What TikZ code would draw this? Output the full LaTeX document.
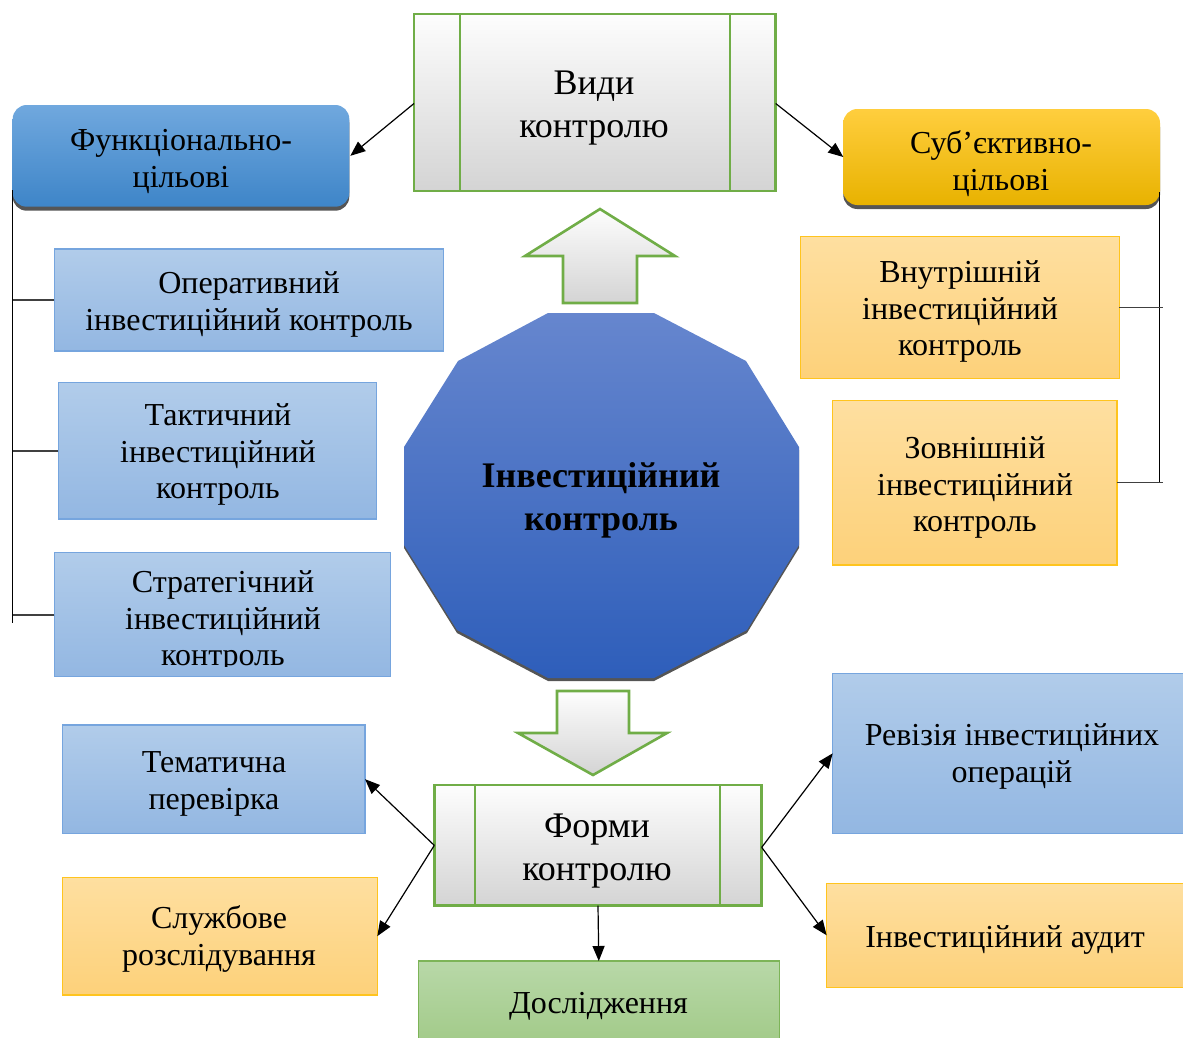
\documentclass[tikz,border=0pt]{standalone}
\usepackage{fontspec}
\setmainfont{Liberation Serif}
\usetikzlibrary{arrows.meta,shadows}
\definecolor{gbd}{RGB}{112,173,71}
\definecolor{gtop}{RGB}{253,253,253}
\definecolor{gbot}{RGB}{212,212,212}
\definecolor{bbd}{RGB}{118,165,222}
\definecolor{btop}{RGB}{177,204,234}
\definecolor{bbot}{RGB}{147,183,226}
\definecolor{obd}{RGB}{255,196,30}
\definecolor{otop}{RGB}{254,223,160}
\definecolor{obot}{RGB}{253,209,122}
\definecolor{dbd}{RGB}{125,180,88}
\definecolor{dtop}{RGB}{184,216,168}
\definecolor{dbot}{RGB}{160,201,134}
\definecolor{ftop}{RGB}{112,168,222}
\definecolor{fbot}{RGB}{62,133,200}
\definecolor{stop}{RGB}{255,206,62}
\definecolor{sbot}{RGB}{232,178,0}
\definecolor{octtop}{RGB}{102,134,206}
\definecolor{octbot}{RGB}{46,94,186}
\definecolor{shd}{RGB}{85,85,85}
\newcommand\fsA{\rule{0pt}{24pt}}
\newcommand\fsB{\rule{0pt}{27pt}}
\begin{document}
\begin{tikzpicture}[x=1pt,y=-1pt,
  base/.style={inner sep=0pt, outer sep=0pt, anchor=north west},
  gbox/.style={base, draw=gbd, line width=2.6pt, top color=gtop, bottom color=gbot},
  lbox/.style={base, draw=bbd, line width=1.4pt, top color=btop, bottom color=bbot},
  obox/.style={base, draw=obd, line width=1.4pt, top color=otop, bottom color=obot},
  dbox/.style={base, draw=dbd, line width=1.4pt, top color=dtop, bottom color=dbot},
  rbox/.style={base, rounded corners=14pt,
     drop shadow={shadow xshift=0pt, shadow yshift=-4pt, fill=shd, opacity=1}},
  txt/.style={inner sep=0pt, anchor=north, align=center, font=\fontsize{32}{36.8}\selectfont},
  ttl/.style={inner sep=0pt, anchor=north, align=center, font=\fontsize{36}{43}\selectfont},
  bld/.style={inner sep=0pt, anchor=north, align=center, font=\fontsize{36}{43}\selectfont\bfseries},
  gline/.style={draw=gbd, line width=2.6pt},
  conn/.style={line width=1.2pt, -{Triangle[length=15pt,width=12pt]}},
  brk/.style={line width=1.5pt, black},
  tick/.style={line width=1.5pt, black!75}
]
\path[use as bounding box] (0,0) rectangle (1183,1037);
\clip (0,0) rectangle (1183,1037);

% ---- boxes (shapes) ----
\node[rbox, top color=ftop, bottom color=fbot, minimum width=336.6pt, minimum height=101.7pt] (funk) at (12.7,105) {};
\node[rbox, top color=stop, bottom color=sbot, minimum width=316.7pt, minimum height=96pt] (sub) at (843.3,109) {};

% brackets
\coordinate (lbot) at (12.7,623);
\coordinate (rbot) at (1159.3,482.7);
\draw[brk] (12.7,190) -- (lbot);
\draw[brk] (1159.3,192) -- (rbot);

\node[lbox, minimum width=389pt, minimum height=102pt] (oper) at (54.3,249) {};
\node[lbox, minimum width=318.4pt, minimum height=136.3pt] (takt) at (58.3,382.7) {};
\node[lbox, minimum width=336.4pt, minimum height=124pt] (strat) at (54.3,552.7) {};
\node[obox, minimum width=318.6pt, minimum height=141.6pt] (vnut) at (800.7,236.7) {};
\node[obox, minimum width=284.3pt, minimum height=164.3pt] (zovn) at (832.7,400.7) {};
\node[lbox, minimum width=302.7pt, minimum height=108.3pt] (tema) at (62.3,725) {};
\node[obox, minimum width=315pt, minimum height=117.7pt] (sluzh) at (62.3,877.3) {};
\node[dbox, minimum width=361pt, minimum height=90pt] (dosl) at (418.3,961) {};
\node[lbox, minimum width=358pt, minimum height=160pt] (rev) at (832.7,673.3) {};
\node[obox, minimum width=358pt, minimum height=104pt] (aud) at (826.7,883.3) {};

\node[gbox, minimum width=361.7pt, minimum height=177pt] (vidy) at (414,14) {};
\draw[gline] ([xshift=46pt]vidy.north west) -- ([xshift=46pt]vidy.south west);
\draw[gline] ([xshift=-45.7pt]vidy.north east) -- ([xshift=-45.7pt]vidy.south east);
\node[gbox, minimum width=327.4pt, minimum height=120.7pt] (forms) at (434.3,785) {};
\draw[gline] ([xshift=40.7pt]forms.north west) -- ([xshift=40.7pt]forms.south west);
\draw[gline] ([xshift=-41.7pt]forms.north east) -- ([xshift=-41.7pt]forms.south east);

% bracket ticks
\draw[tick] (oper.west) -- (oper.west -| lbot);
\draw[tick] (takt.west) -- (takt.west -| lbot);
\draw[tick] (strat.west |- 0,615) -- (lbot |- 0,615);
\draw[tick] (vnut.east |- 0,307.7) -- (1163,307.7);
\draw[tick] (zovn.east |- rbot) -- ([xshift=4pt]rbot);

% big arrows
\path[draw=gbd, line width=2.6pt, top color=gtop, bottom color=gbot, line join=miter]
  (600,209) -- (675,256) -- (637,256) -- (637,303) -- (563,303) -- (563,256) -- (525,256) -- cycle;
\path[draw=gbd, line width=2.6pt, top color=gtop, bottom color=gbot, line join=miter]
  (557,691) -- (629,691) -- (629,733) -- (667,733) -- (593,775) -- (518,733) -- (557,733) -- cycle;

% central polygon
\fill[shd, shift={(0,3)}] (548,313) -- (654,313) -- (746,361) -- (799,447) -- (799,545) -- (747,630)
  -- (654,678) -- (548,678) -- (457,630) -- (404,545) -- (404,447) -- (458,361) -- cycle;
\shade[top color=octtop, bottom color=octbot] (548,313) -- (654,313) -- (746,361) -- (799,447) -- (799,545) -- (747,630)
  -- (654,678) -- (548,678) -- (457,630) -- (404,545) -- (404,447) -- (458,361) -- cycle;

% ---- texts ----
\node[ttl] (t-vidy) at (594,67) {\fsB Види\\контролю};
\node[txt] (t-funk) at (181,126) {\fsA Функціонально-\\цільові};
\node[txt] (t-oper) at (249,269) {\fsA Оперативний\\інвестиційний контроль};
\node[txt] (t-takt) at (218,401) {\fsA Тактичний\\інвестиційний\\контроль};
\begin{scope}
\clip (strat.north west) rectangle ([yshift=10pt]strat.south east);
\node[txt] (t-strat) at (223,568) {\fsA Стратегічний\\інвестиційний\\контроль};
\end{scope}
\node[txt] (t-sub) at (1001,129) {\fsA Суб’єктивно-\\цільові};
\node[txt] (t-vnut) at (960,258) {\fsA Внутрішній\\інвестиційний\\контроль};
\node[txt] (t-zovn) at (975,434) {\fsA Зовнішній\\інвестиційний\\контроль};
\node[bld] (inv) at (601,460) {\fsB Інвестиційний\\контроль};
\node[ttl] (t-forms) at (597,810) {\fsB Форми\\контролю};
\node[txt] (t-tema) at (214,748) {\fsA Тематична\\перевірка};
\node[txt] (t-sluzh) at (219,904) {\fsA Службове\\розслідування};
\node[txt] (t-dosl) at (598.5,989) {\fsA Дослідження};
\node[txt] (t-rev) at (1012,721) {\fsA Ревізія інвестиційних\\операцій};
\node[txt] (t-aud) at (1005,923) {\fsA Інвестиційний аудит};

% ---- connectors ----
\draw[conn] ([yshift=-1pt]vidy.west) -- ([xshift=1pt]funk.east);
\draw[conn] ([yshift=-1pt]vidy.east) -- (sub.west);
\draw[conn] (forms.west) -- (tema.east);
\draw[conn] (forms.west) -- (sluzh.east);
\draw[conn] ([yshift=-2pt]forms.east) -- (rev.west);
\draw[conn] ([yshift=-2pt]forms.east) -- (aud.west);
\draw[conn] (forms.south) -- (dosl.north);
\end{tikzpicture}
\end{document}
